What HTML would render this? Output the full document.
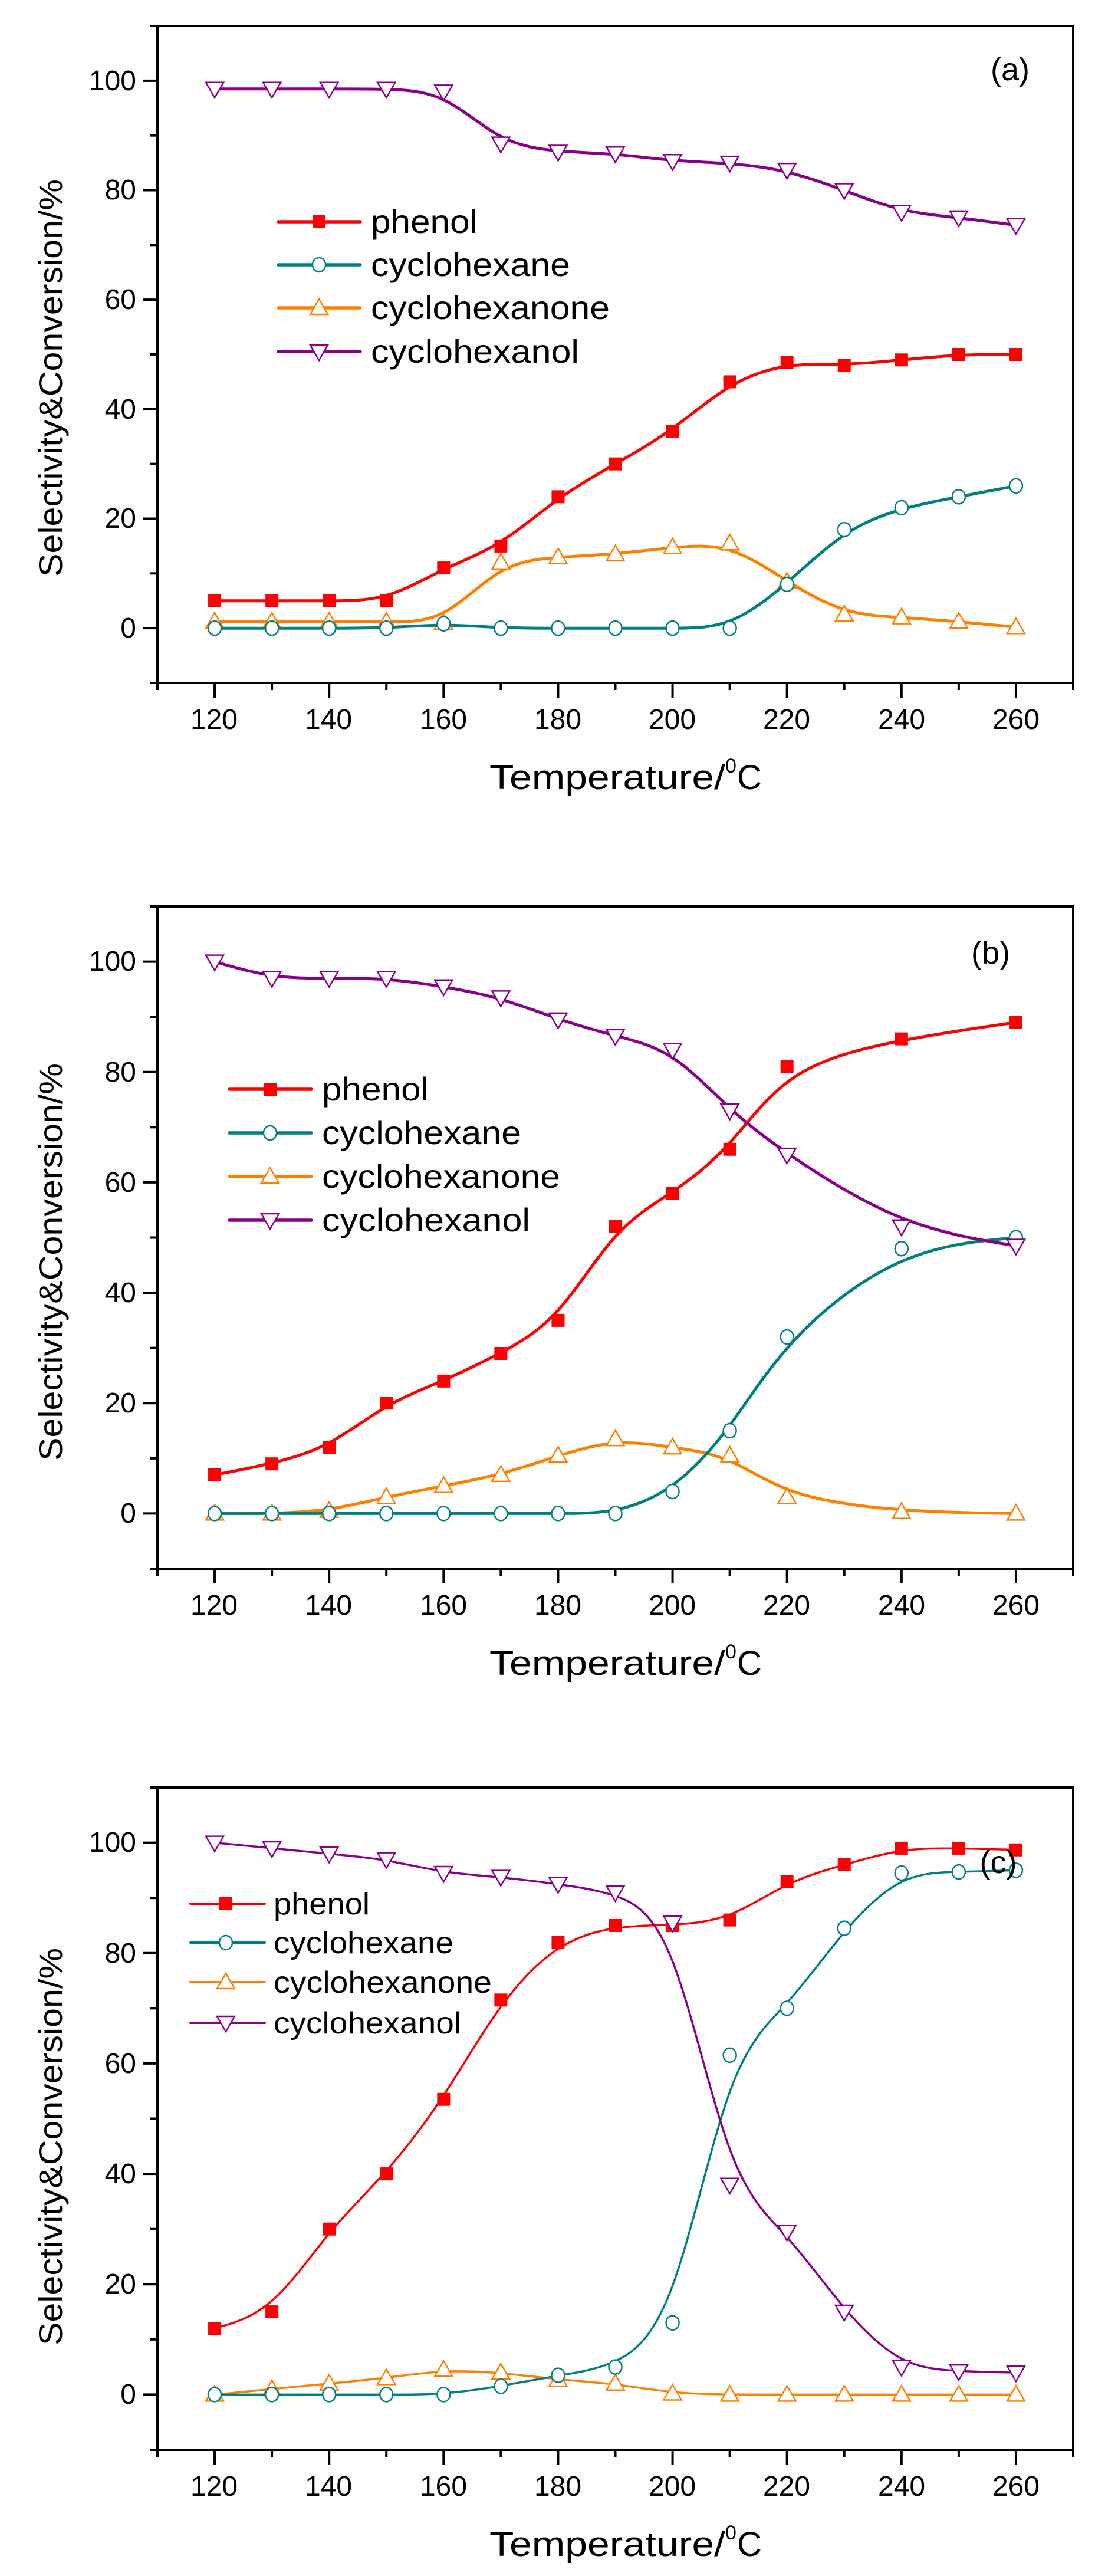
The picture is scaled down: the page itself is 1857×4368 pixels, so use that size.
<!DOCTYPE html>
<html><head><meta charset="utf-8"><style>
html,body{margin:0;padding:0;background:#fff;}
svg{display:block;}
text{font-family:"Liberation Sans",Arial,sans-serif;fill:#000;}
</style></head><body>
<svg id="s" width="1857" height="4368" viewBox="0 0 1857 4368" xmlns="http://www.w3.org/2000/svg">
<rect width="1857" height="4368" fill="#fff"/>
<g id="g"></g>
<!-- Panel a texts -->
<g font-size="48">
<text x="231" y="153" text-anchor="end">100</text>
<text x="231" y="338" text-anchor="end">80</text>
<text x="231" y="524" text-anchor="end">60</text>
<text x="231" y="710" text-anchor="end">40</text>
<text x="231" y="895" text-anchor="end">20</text>
<text x="231" y="1081" text-anchor="end">0</text>
<text x="363" y="1236" text-anchor="middle">120</text>
<text x="557" y="1236" text-anchor="middle">140</text>
<text x="752" y="1236" text-anchor="middle">160</text>
<text x="946" y="1236" text-anchor="middle">180</text>
<text x="1140" y="1236" text-anchor="middle">200</text>
<text x="1334" y="1236" text-anchor="middle">220</text>
<text x="1529" y="1236" text-anchor="middle">240</text>
<text x="1723" y="1236" text-anchor="middle">260</text>
</g>
<text x="1713" y="136" font-size="54" text-anchor="middle">(a)</text>
<g font-size="56">
<text x="629" y="395" textLength="181" lengthAdjust="spacingAndGlyphs">phenol</text>
<text x="629" y="468" textLength="338" lengthAdjust="spacingAndGlyphs">cyclohexane</text>
<text x="629" y="541" textLength="405" lengthAdjust="spacingAndGlyphs">cyclohexanone</text>
<text x="629" y="615" textLength="353" lengthAdjust="spacingAndGlyphs">cyclohexanol</text>
</g>
<text x="830" y="1338" font-size="58" textLength="400" lengthAdjust="spacingAndGlyphs">Temperature/</text><text x="1230" y="1310" font-size="34">0</text><text x="1250" y="1338" font-size="58">C</text>
<text transform="translate(105,641) rotate(-90)" font-size="56" text-anchor="middle" textLength="674" lengthAdjust="spacingAndGlyphs">Selectivity&amp;Conversion/%</text>

<!-- Panel b texts -->
<g font-size="48">
<text x="231" y="1646" text-anchor="end">100</text>
<text x="231" y="1834" text-anchor="end">80</text>
<text x="231" y="2021" text-anchor="end">60</text>
<text x="231" y="2208" text-anchor="end">40</text>
<text x="231" y="2395" text-anchor="end">20</text>
<text x="231" y="2582" text-anchor="end">0</text>
<text x="363" y="2738" text-anchor="middle">120</text>
<text x="557" y="2738" text-anchor="middle">140</text>
<text x="752" y="2738" text-anchor="middle">160</text>
<text x="946" y="2738" text-anchor="middle">180</text>
<text x="1140" y="2738" text-anchor="middle">200</text>
<text x="1334" y="2738" text-anchor="middle">220</text>
<text x="1529" y="2738" text-anchor="middle">240</text>
<text x="1723" y="2738" text-anchor="middle">260</text>
</g>
<text x="1680" y="1634" font-size="54" text-anchor="middle">(b)</text>
<g font-size="56">
<text x="546" y="1866" textLength="181" lengthAdjust="spacingAndGlyphs">phenol</text>
<text x="546" y="1940" textLength="338" lengthAdjust="spacingAndGlyphs">cyclohexane</text>
<text x="546" y="2014" textLength="404" lengthAdjust="spacingAndGlyphs">cyclohexanone</text>
<text x="546" y="2088" textLength="353" lengthAdjust="spacingAndGlyphs">cyclohexanol</text>
</g>
<text x="830" y="2840" font-size="58" textLength="400" lengthAdjust="spacingAndGlyphs">Temperature/</text><text x="1230" y="2812" font-size="34">0</text><text x="1250" y="2840" font-size="58">C</text>
<text transform="translate(105,2140) rotate(-90)" font-size="56" text-anchor="middle" textLength="674" lengthAdjust="spacingAndGlyphs">Selectivity&amp;Conversion/%</text>

<!-- Panel c texts -->
<g font-size="48">
<text x="231" y="3140" text-anchor="end">100</text>
<text x="231" y="3328" text-anchor="end">80</text>
<text x="231" y="3515" text-anchor="end">60</text>
<text x="231" y="3702" text-anchor="end">40</text>
<text x="231" y="3889" text-anchor="end">20</text>
<text x="231" y="4076" text-anchor="end">0</text>
<text x="363" y="4232" text-anchor="middle">120</text>
<text x="557" y="4232" text-anchor="middle">140</text>
<text x="752" y="4232" text-anchor="middle">160</text>
<text x="946" y="4232" text-anchor="middle">180</text>
<text x="1140" y="4232" text-anchor="middle">200</text>
<text x="1334" y="4232" text-anchor="middle">220</text>
<text x="1529" y="4232" text-anchor="middle">240</text>
<text x="1723" y="4232" text-anchor="middle">260</text>
</g>
<text x="1693" y="3176" font-size="54" text-anchor="middle">(c)</text>
<g font-size="52">
<text x="464" y="3246" textLength="163" lengthAdjust="spacingAndGlyphs">phenol</text>
<text x="464" y="3312" textLength="305" lengthAdjust="spacingAndGlyphs">cyclohexane</text>
<text x="464" y="3379" textLength="370" lengthAdjust="spacingAndGlyphs">cyclohexanone</text>
<text x="464" y="3448" textLength="318" lengthAdjust="spacingAndGlyphs">cyclohexanol</text>
</g>
<text x="830" y="4334" font-size="58" textLength="400" lengthAdjust="spacingAndGlyphs">Temperature/</text><text x="1230" y="4306" font-size="34">0</text><text x="1250" y="4334" font-size="58">C</text>
<text transform="translate(105,3640) rotate(-90)" font-size="56" text-anchor="middle" textLength="674" lengthAdjust="spacingAndGlyphs">Selectivity&amp;Conversion/%</text>
</svg>
<script>
(function(){
var NS="http://www.w3.org/2000/svg",g=document.getElementById('g');
function el(n,a){var e=document.createElementNS(NS,n);for(var k in a)e.setAttribute(k,a[k]);g.appendChild(e);return e;}
var L=267,R=1820;
function X(t){return L+(t-110)*(R-L)/160;}
var C={p:'#ff0000',h:'#008080',k:'#ff8000',l:'#8b008b'};
var T15=[120,130,140,150,160,170,180,190,200,210,220,230,240,250,260];
var Tb=[120,130,140,150,160,170,180,190,200,210,220,240,260];
var panels=[
{T:44,B:1158,lw:5,t:T15,
 d:{p:[5,5,5,5,11,15,24,30,36,45,48.5,48,49,50,50],
    h:[0,0,0,0,0.8,0,0,0,0,0,8,18,22,24,26],
    k:[1.2,1.2,1.2,1.2,1,12,13,13.5,14.8,15.5,8.5,2.5,2,1.2,0.2],
    l:[98.5,98.5,98.5,98.5,98,88.5,87,86.7,85.3,85,83.7,80,76,75,73.6]},
 leg:{x1:472,x2:611,m:541,rows:[376,449,522,596]}},
{T:1537,B:2660,lw:5,t:Tb,
 d:{p:[7,9,12,20,24,29,35,52,58,66,81,86,89],
    h:[0,0,0,0,0,0,0,0,4,15,32,48,50],
    k:[0,0,0.5,3,5,7,10.5,13.5,12,10.5,3,0.3,0],
    l:[100,97,97,97,95.5,93.5,89.5,86.5,84,73,65,52,48.5]},
 leg:{x1:389,x2:528,m:458,rows:[1847,1921,1995,2069]}},
{T:3031,B:4154,lw:3.5,t:T15,
 d:{p:[12,15,30,40,53.5,71.5,82,85,85,86,93,96,99,99,98.7],
    h:[0,0,0,0,0,1.5,3.5,5,13,61.5,70,84.5,94.5,94.7,95],
    k:[0,1,2,3,4.5,4,2.7,2,0.2,0,0,0,0,0,0],
    l:[100,99,98,97,94.5,93.8,92.5,91,85.5,38,29.5,15,5,4.2,4]},
 leg:{x1:323,x2:449,m:383,rows:[3228,3294,3361,3430]}}
];
function marker(k,x,y){
 if(k=='p')el('rect',{x:x-11,y:y-11,width:22,height:22,fill:C.p});
 else if(k=='h')el('ellipse',{cx:x,cy:y,rx:11,ry:12,fill:'#fff',stroke:C.h,'stroke-width':2.5});
 else if(k=='k')el('polygon',{points:(x-15)+','+(y+11)+' '+(x+15)+','+(y+11)+' '+x+','+(y-15),fill:'#fff',stroke:C.k,'stroke-width':2.5});
 else el('polygon',{points:(x-15)+','+(y-11)+' '+(x+15)+','+(y-11)+' '+x+','+(y+15),fill:'#fff',stroke:C.l,'stroke-width':2.5});
}
function f(v){return v.toFixed(1);}
panels.forEach(function(P){
 function Y(v){return P.T+(110-v)*(P.B-P.T)/120;}
 for(var t=110;t<=270;t+=10){var maj=(t%20==0);el('line',{x1:X(t),x2:X(t),y1:P.B,y2:P.B+(maj?25:12),stroke:'#000','stroke-width':4});}
 for(var v=-10;v<=110;v+=10){var maj=(v%20==0);el('line',{x1:L,x2:L-(maj?25:12),y1:Y(v),y2:Y(v),stroke:'#000','stroke-width':4});}
 el('rect',{x:L,y:P.T,width:R-L,height:P.B-P.T,fill:'none',stroke:'#000','stroke-width':4});
 ['k','h','p','l'].forEach(function(k){
  var pts=P.t.map(function(t,i){return [X(t),Y(P.d[k][i])];});
  var q=[pts[0],pts[0]].concat(pts).concat([pts[pts.length-1],pts[pts.length-1]]);
  var d='';
  for(var i=1;i<q.length-2;i++){
   var a=q[i-1],b=q[i],c=q[i+1],e=q[i+2];
   var s=[(a[0]+4*b[0]+c[0])/6,(a[1]+4*b[1]+c[1])/6];
   var c1=[(2*b[0]+c[0])/3,(2*b[1]+c[1])/3],c2=[(b[0]+2*c[0])/3,(b[1]+2*c[1])/3];
   var en=[(b[0]+4*c[0]+e[0])/6,(b[1]+4*c[1]+e[1])/6];
   if(i==1)d='M'+f(s[0])+','+f(s[1]);
   d+=' C'+f(c1[0])+','+f(c1[1])+' '+f(c2[0])+','+f(c2[1])+' '+f(en[0])+','+f(en[1]);
  }
  el('path',{d:d,fill:'none',stroke:C[k],'stroke-width':P.lw,'stroke-linejoin':'round'});
  pts.forEach(function(p){marker(k,p[0],p[1]);});
 });
 ['p','h','k','l'].forEach(function(k,i){
  var y=P.leg.rows[i];
  el('line',{x1:P.leg.x1,x2:P.leg.x2,y1:y,y2:y,stroke:C[k],'stroke-width':P.lw+0.5,'stroke-linecap':'round'});
  marker(k,P.leg.m,y);
 });
});
})();
</script>
</body></html>
